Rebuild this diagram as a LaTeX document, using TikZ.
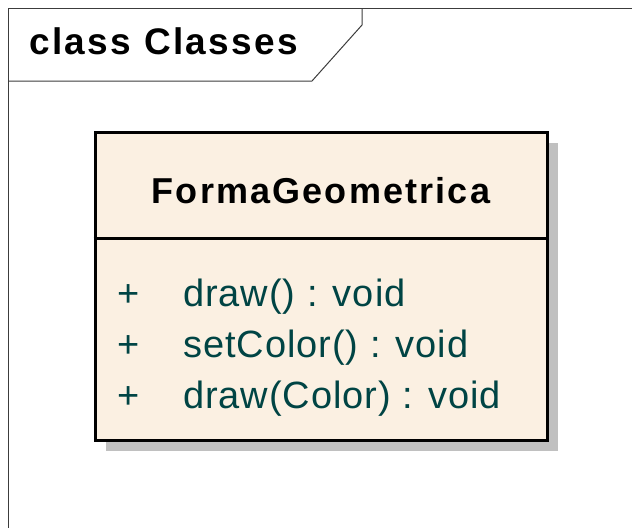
\documentclass[tikz,border=0pt]{standalone}
\usepackage{fontspec}
\setmainfont{Liberation Sans}
\newfontfamily\umlfont{Liberation Sans}
\usetikzlibrary{positioning,shadows}
\definecolor{framegray}{HTML}{3C3C3C}
\definecolor{classfill}{HTML}{FBF0E2}
\definecolor{shadowgray}{HTML}{C0C0C0}
\definecolor{opteal}{HTML}{004444}
\tikzset{
  framebox/.style={draw=framegray,line width=1pt},
  classbox/.style={draw=black,line width=3pt,fill=classfill,minimum width=452pt,minimum height=308pt,inner sep=0pt,
    drop shadow={shadow xshift=11pt,shadow yshift=-11pt,fill=shadowgray,opacity=1}},
  classline/.style={draw=black,line width=3pt},
  frametitle/.style={font=\umlfont\addfontfeature{LetterSpace=6.5}\bfseries\fontsize{37}{44}\selectfont,anchor=base west,inner sep=0pt},
  classname/.style={font=\umlfont\addfontfeature{LetterSpace=6}\bfseries\fontsize{36}{43}\selectfont,anchor=base,inner sep=0pt},
  optext/.style={font=\umlfont\addfontfeature{LetterSpace=2.5}\fontsize{38}{45}\selectfont,text=opteal,anchor=base west,inner sep=0pt}
}
\begin{document}
\begin{tikzpicture}[x=1pt,y=-1pt]
  \useasboundingbox (0,0) rectangle (632,528);
  % diagram frame and its tab
  \draw[framebox] (632,8) -- (8,8) -- (8,528);
  \draw[framebox] (8,81) -- (312,81) -- (362,25) -- (362,8);
  \node[frametitle] (title) at (29,54) {class Classes};
  % the class
  \node[classbox] (cls) at (321,286) {};
  \coordinate (sep) at (0,238);
  \draw[classline] (cls.west |- sep) -- (cls.east |- sep);
  \node[classname] (clsname) at (321,203) {FormaGeometrica};
  \foreach \op [count=\i] in {draw() : void, setColor() : void, draw(Color) : void} {
    \node[optext] (vis\i) at (117,255+51*\i) {+};
    \node[optext] (op\i) at (183,255+51*\i) {\op};
  }
\end{tikzpicture}
\end{document}
